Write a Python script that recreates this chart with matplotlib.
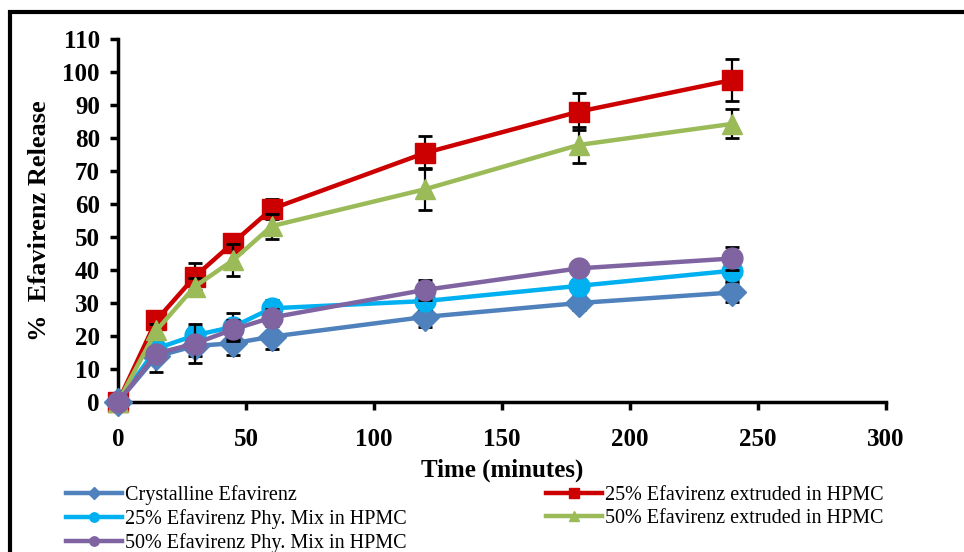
import matplotlib
matplotlib.use("Agg")
import matplotlib.pyplot as plt
from matplotlib.patches import Rectangle

plt.rcParams['font.family'] = ['Liberation Serif', 'DejaVu Serif']

# Dissolution time points (minutes)
time_min = [0, 15, 30, 45, 60, 120, 180, 240]

# % drug released, mean and SD per formulation
crystalline = [0, 13.8, 17.0, 17.8, 19.8, 25.8, 30.0, 33.2]
crystalline_sd = [0, 4.8, 3.0, 3.6, 3.8, 3.0, 2.0, 3.0]

extr_25 = [0, 24.8, 38.0, 48.3, 58.5, 75.5, 88.0, 97.6]
extr_25_sd = [0, 2.0, 4.0, 2.5, 3.0, 5.0, 5.5, 6.3]

phy_25 = [0, 16.2, 20.2, 22.8, 28.4, 30.6, 35.2, 39.8]
phy_25_sd = [0, 2.0, 2.5, 4.3, 2.5, 2.5, 2.0, 3.0]

extr_50 = [0, 21.7, 35.0, 43.0, 53.3, 64.5, 77.9, 84.3]
extr_50_sd = [0, 2.0, 2.5, 4.8, 3.8, 6.3, 5.4, 4.4]

phy_50 = [0, 14.7, 17.7, 22.0, 25.6, 34.0, 40.5, 43.5]
phy_50_sd = [0, 2.0, 6.0, 3.0, 2.5, 3.0, 2.0, 3.4]

series = [
    ("Crystalline Efavirenz", crystalline, crystalline_sd, "#4F81BD", "D", 14),
    ("25% Efavirenz extruded in HPMC", extr_25, extr_25_sd, "#CC0000", "s", 15),
    ("25% Efavirenz Phy. Mix in HPMC", phy_25, phy_25_sd, "#00B0F0", "o", 15),
    ("50% Efavirenz extruded in HPMC", extr_50, extr_50_sd, "#9BBB59", "^", 15),
    ("50% Efavirenz Phy. Mix in HPMC", phy_50, phy_50_sd, "#8064A2", "o", 15),
]

fig = plt.figure(figsize=(9.64, 5.52), dpi=100)
ax = fig.add_axes([0.1224, 0.2717, 0.7967, 0.6576])

handles = {}
z = 3
for label, y, sd, color, marker, ms in series:
    # error bars sit just under each series' line and markers
    ax.errorbar(time_min, y, yerr=sd, fmt="none", ecolor="black", elinewidth=1.6,
                capsize=5, capthick=2, zorder=z - 0.2, clip_on=False)
    line, = ax.plot(time_min, y, color=color, lw=3.2, marker=marker, ms=ms,
                    mec=color, mfc=color, zorder=z, label=label, clip_on=False)
    handles[label] = line
    z += 1

ax.set_xlim(0, 300)
ax.set_ylim(0, 110)
ax.set_xticks(range(0, 301, 50))
ax.set_yticks(range(0, 111, 10))

for side in ("top", "right"):
    ax.spines[side].set_visible(False)
for side in ("left", "bottom"):
    ax.spines[side].set_linewidth(2.5)

ax.tick_params(axis="both", direction="out", length=6, width=2.5,
               labelsize=18, pad=7)
ax.tick_params(axis="x", pad=13)
for lbl in ax.get_xticklabels() + ax.get_yticklabels():
    lbl.set_fontweight("bold")

ax.set_xlabel("Time (minutes)", fontsize=18, fontweight="bold", labelpad=5)
ax.set_ylabel("%  Efavirenz Release", fontsize=19, fontweight="bold", labelpad=8)

# legend: first column physical mixes + crystalline, second column extrudates
order = ["Crystalline Efavirenz", "25% Efavirenz Phy. Mix in HPMC",
         "50% Efavirenz Phy. Mix in HPMC", "25% Efavirenz extruded in HPMC",
         "50% Efavirenz extruded in HPMC"]
leg = fig.legend([handles[k] for k in order], order, ncol=2, frameon=False,
                 loc="upper left", bbox_to_anchor=(0.068, 0.122),
                 fontsize=14.5, handlelength=2.8, handletextpad=0.15,
                 columnspacing=6.9, labelspacing=0.22, markerscale=0.45,
                 borderaxespad=0, borderpad=0)

# outer frame around the whole chart
fig.add_artist(Rectangle((0.0104, -0.05), 1.1, 0.05 + 0.978, transform=fig.transFigure,
                         fill=False, lw=3, edgecolor="black", clip_on=False))

fig.savefig("out.png", dpi=100)
